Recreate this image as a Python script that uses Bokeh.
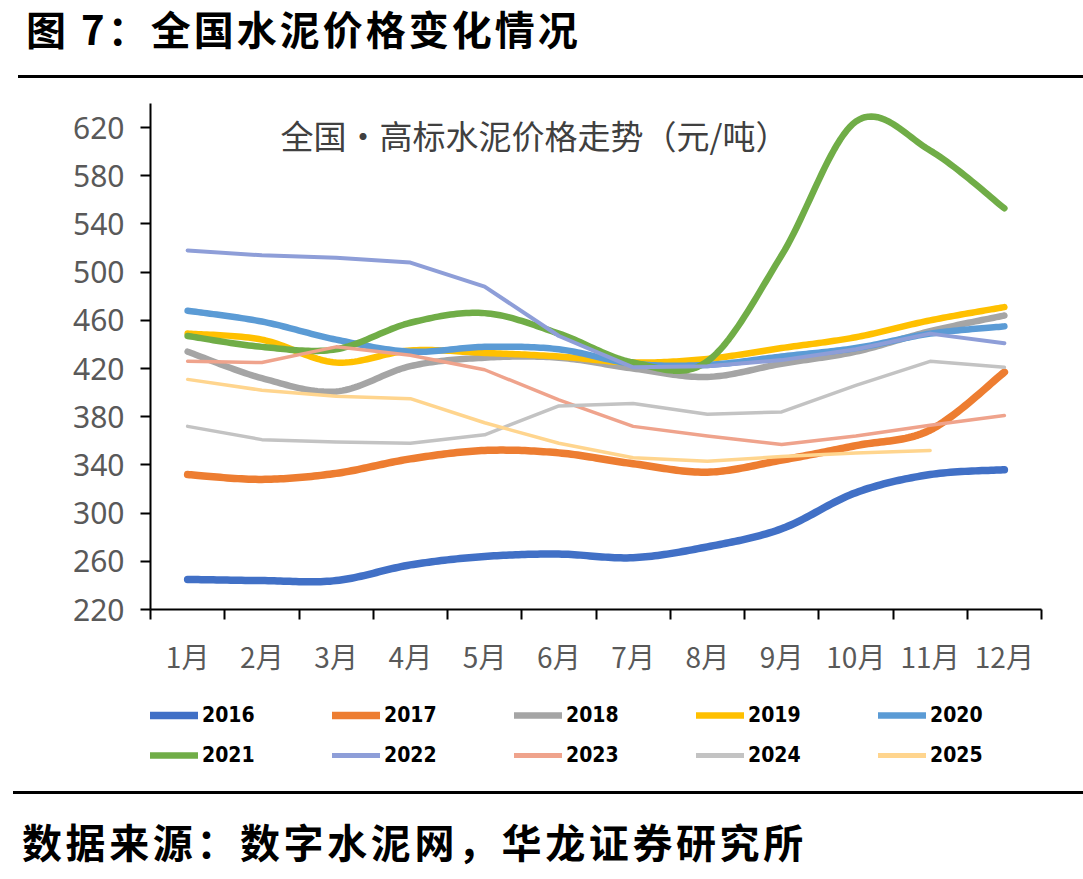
import numpy as np
from bokeh.plotting import figure
from bokeh.layouts import column
from bokeh.models import (Range1d, FixedTicker, Label, Legend, LegendItem, Div)
from bokeh.embed import file_html
from bokeh.resources import INLINE

# ---- data -------------------------------------------------------------
months = ["1月", "2月", "3月", "4月", "5月", "6月",
          "7月", "8月", "9月", "10月", "11月", "12月"]
y_ticks = [220, 260, 300, 340, 380, 420, 460, 500, 540, 580, 620]

price_2016 = [245, 244, 244, 257, 264, 266, 263, 272, 287, 317, 332, 336]
price_2017 = [332, 328, 333, 345, 352, 350, 341, 334, 344, 356, 369, 417]
price_2018 = [434, 412, 401, 422, 429, 429, 420, 413, 424, 434, 451, 464]
price_2019 = [449, 444, 425, 435, 433, 430, 425, 428, 437, 446, 460, 471]
price_2020 = [468, 459, 444, 434, 438, 436, 424, 423, 430, 437, 449, 455]
price_2021 = [447, 438, 436, 458, 466, 449, 425, 426, 514, 625, 601, 553]
price_2022 = [518, 514, 512, 508, 488, 447, 421, 422, 427, 436, 449, 441]
price_2023 = [426, 425, 438, 431, 419, 394, 372, 364, 357, 364, 373, 381]
price_2024 = [372, 361, 359, 358, 365, 389, 391, 382, 384, 406, 426, 421]
price_2025 = [411, 402, 397, 395, 375, 358, 346, 343, 347, 350, 352]

series = [
    # year, values, colour, width, smoothed
    ("2016", price_2016, "#4170C6", 7.5, True),
    ("2017", price_2017, "#ED7D31", 7.5, True),
    ("2018", price_2018, "#A5A5A5", 6.5, True),
    ("2019", price_2019, "#FFC000", 6.5, True),
    ("2020", price_2020, "#5B9BD5", 6.5, True),
    ("2021", price_2021, "#70AD47", 6.5, True),
    ("2022", price_2022, "#8E9ED8", 4.0, False),
    ("2023", price_2023, "#EFA38C", 3.5, False),
    ("2024", price_2024, "#C3C3C3", 3.5, False),
    ("2025", price_2025, "#FFD58E", 3.5, False),
]

caption = "图 7：全国水泥价格变化情况"
source = "数据来源：数字水泥网，华龙证券研究所"
inner_title = "全国•高标水泥价格走势（元/吨）"

# ---- page geometry (pixels) -------------------------------------------
W = 1083
TOP_H = 90          # caption band
MAIN_H = 600        # chart
LEG_H = 95          # legend band
BOT_H = 94          # source band
FL, FR = 150, 1041  # plot frame left / right on the page
FT, FB = 103, 609   # plot frame top / bottom on the page


def smooth_path(xs, ys, n=24):
    """Cubic Bezier path through the points (Catmull-Rom style tangents)."""
    xs = np.asarray(xs, float)
    ys = np.asarray(ys, float)
    m = len(xs)
    out_x, out_y = [xs[0]], [ys[0]]
    t = np.linspace(0, 1, n + 1)[1:]
    for i in range(m - 1):
        i0, i3 = max(i - 1, 0), min(i + 2, m - 1)
        p0 = np.array([xs[i], ys[i]])
        p3 = np.array([xs[i + 1], ys[i + 1]])
        c1 = p0 + (p3 - np.array([xs[i0], ys[i0]])) / 6.0
        c2 = p3 - (np.array([xs[i3], ys[i3]]) - p0) / 6.0
        b = ((1 - t) ** 3)[:, None] * p0 + (3 * (1 - t) ** 2 * t)[:, None] * c1 \
            + (3 * (1 - t) * t ** 2)[:, None] * c2 + (t ** 3)[:, None] * p3
        out_x.extend(b[:, 0])
        out_y.extend(b[:, 1])
    return out_x, out_y


def plain(fig):
    fig.outline_line_color = None
    fig.background_fill_color = "white"
    fig.border_fill_color = "white"
    return fig


TEXT_CSS = ("position:absolute;white-space:nowrap;line-height:40px;"
            "font-family:'Noto Sans CJK SC';font-weight:bold;font-size:40px;"
            "color:#000;")
RULE_CSS = "position:absolute;right:0;height:2.5px;background:#000;"

# ---- caption band -----------------------------------------------------
top = Div(width=W, height=TOP_H, margin=0, text=(
    f'<div style="position:relative;width:{W}px;height:{TOP_H}px;">'
    f'<div style="{TEXT_CSS}letter-spacing:3px;left:26px;top:8px;">'
    f'{caption}</div>'
    f'<div style="{RULE_CSS}left:18px;top:75px;"></div></div>'))

# ---- chart ------------------------------------------------------------
p = plain(figure(width=W, height=MAIN_H, output_backend="svg",
                 toolbar_location=None,
                 x_range=Range1d(0, len(months)), y_range=Range1d(220, 640),
                 min_border_left=FL, min_border_right=W - FR,
                 min_border_top=FT - TOP_H,
                 min_border_bottom=TOP_H + MAIN_H - FB))
p.xgrid.visible = False
p.ygrid.visible = False

centers = [i + 0.5 for i in range(len(months))]

xa = p.xaxis[0]
xa.ticker = FixedTicker(ticks=centers, minor_ticks=list(range(len(months) + 1)))
xa.major_label_overrides = {c: m for c, m in zip(centers, months)}
xa.major_tick_out = 0
xa.major_tick_in = 0
xa.minor_tick_out = 10
xa.minor_tick_in = 0
xa.minor_tick_line_color = "black"
xa.minor_tick_line_width = 2
xa.axis_line_color = "black"
xa.axis_line_width = 2
xa.major_label_text_font = "Noto Sans CJK SC"
xa.major_label_text_font_size = "28px"
xa.major_label_text_color = "#595959"
xa.major_label_standoff = 16

ya = p.yaxis[0]
ya.ticker = FixedTicker(ticks=y_ticks, minor_ticks=[])
ya.major_tick_out = 10
ya.major_tick_in = 0
ya.major_tick_line_color = "black"
ya.major_tick_line_width = 2
ya.axis_line_color = "black"
ya.axis_line_width = 2
ya.major_label_text_font = "Noto Sans"
ya.major_label_text_font_size = "30px"
ya.major_label_text_color = "#595959"
ya.major_label_standoff = 16

for year, vals, color, lw, smooth in series:
    xs = centers[:len(vals)]
    px, py = smooth_path(xs, vals) if smooth else (xs, vals)
    p.line(px, py, line_color=color, line_width=lw,
           line_cap="round", line_join="round")

p.add_layout(Label(x=280 - FL, y=FB - 134, x_units="screen", y_units="screen",
                   text=inner_title,
                   text_font="Noto Sans CJK SC", text_font_size="33px",
                   text_color="#404040", text_baseline="middle"))

# ---- legend band ------------------------------------------------------
leg = plain(figure(width=W, height=LEG_H, output_backend="svg",
                   toolbar_location=None, x_range=Range1d(0, 1),
                   y_range=Range1d(0, 1), min_border=0,
                   x_axis_location=None, y_axis_location=None))
leg.grid.visible = False

items = []
for year, vals, color, lw, smooth in series:
    # key-only renderer: a single empty point, styled like the series line
    key = leg.line([np.nan], [np.nan], line_color=color,
                   line_width=max(lw, 5), line_cap="round")
    items.append(LegendItem(label=year, renderers=[key]))

legend = Legend(items=items, ncols=5, orientation="horizontal",
                location=(0, LEG_H - (771 - (TOP_H + MAIN_H))),
                glyph_width=48, glyph_height=32, label_height=32,
                label_width=122, spacing=8, label_standoff=4,
                padding=0, margin=0, border_line_color=None,
                background_fill_alpha=0,
                label_text_font="DejaVu Sans Condensed",
                label_text_font_style="bold", label_text_font_size="21px",
                label_text_color="black")
leg.add_layout(legend)

# ---- source band ------------------------------------------------------
bot = Div(width=W, height=BOT_H, margin=0, text=(
    f'<div style="position:relative;width:{W}px;height:{BOT_H}px;">'
    f'<div style="{RULE_CSS}left:13px;top:6px;"></div>'
    f'<div style="{TEXT_CSS}letter-spacing:3.6px;left:22px;top:36px;">'
    f'{source}</div></div>'))

page = column(top, p, leg, bot, spacing=0)
open("out.html", "w").write(file_html(page, INLINE))
